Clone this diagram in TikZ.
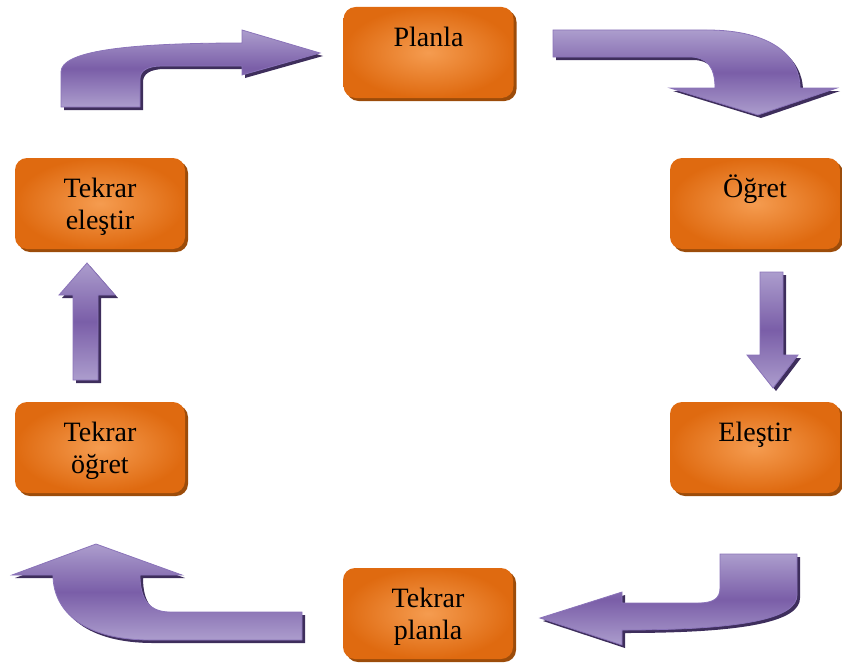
\documentclass[tikz,border=0pt]{standalone}
\usepackage{fontspec}
\setmainfont{Liberation Serif}
\newfontfamily\stagefont{Liberation Serif}
\usetikzlibrary{shadows}
\definecolor{boxin}{HTML}{F59C50}
\definecolor{boxout}{HTML}{DF6A10}
\definecolor{boxsh}{HTML}{9C4C0A}
\definecolor{arrlight}{HTML}{AC9DCD}
\definecolor{arrdark}{HTML}{7A5EA8}
\definecolor{arredge}{HTML}{8A73B9}
\definecolor{arrsh}{HTML}{3E2E5C}
\tikzset{
  stagebox/.style={rounded corners=12pt, minimum width=170pt, minimum height=91pt,
    inner sep=0pt, inner color=boxin, outer color=boxout,
    general shadow={fill=boxsh, shadow xshift=3pt, shadow yshift=-3pt},
    font=\stagefont\fontsize{28}{32}\selectfont},
  blockarrow/.style={draw=arredge, line width=0.8pt, top color=arrlight,
    bottom color=arrlight, middle color=arrdark,
    general shadow={fill=arrsh, shadow xshift=3pt, shadow yshift=-3pt}}
}
\newcommand{\boxlabel}[1]{\parbox[c][91pt][t]{170pt}{\centering\rule{0pt}{39pt}#1}}
\begin{document}
\begin{tikzpicture}[x=1pt,y=-1pt]
\useasboundingbox (0,0) rectangle (842,669);
% stages
\node[stagebox] (planla) at (428.5,52.5) {\boxlabel{Planla}};
\node[stagebox] (ogret) at (755,203.5) {\boxlabel{Öğret}};
\node[stagebox] (elestir) at (755,447.5) {\boxlabel{Eleştir}};
\node[stagebox] (tplanla) at (428,613.5) {\boxlabel{Tekrar\\planla}};
\node[stagebox] (togret) at (100,447.5) {\boxlabel{Tekrar\\öğret}};
\node[stagebox] (telestir) at (100,203.5) {\boxlabel{Tekrar\\eleştir}};
% arrow: Tekrar eleştir -> Planla
\path[blockarrow] (61,107) -- (61,72) .. controls (61,52) and (120,43) .. (242,43)
  -- (242,30) -- (320,53) -- (242,75) -- (242,66) -- (162,66)
  .. controls (147,66) and (140,71) .. (140,79) -- (140,107) -- cycle;
% arrow: Planla -> Öğret
\path[blockarrow] (553,30) -- (707,30) .. controls (770,30) and (800,55) .. (800,88)
  -- (837,88) -- (758,115) -- (670,88) -- (715,88)
  .. controls (715,66) and (706,57) .. (690,57) -- (553,57) -- cycle;
% arrow: Öğret -> Eleştir
\path[blockarrow] (760,272) -- (783,272) -- (783,355) -- (798,355) -- (773,388)
  -- (747,355) -- (760,355) -- cycle;
% arrow: Eleştir -> Tekrar planla
\path[blockarrow] (720,554) -- (797,554) -- (797,595)
  .. controls (797,618) and (745,630) .. (622,630) -- (622,645) -- (540,618)
  -- (622,592) -- (622,603) -- (698,603) .. controls (714,603) and (720,598) .. (720,588) -- cycle;
% arrow: Tekrar planla -> Tekrar öğret
\path[blockarrow] (302,612) -- (302,640) -- (150,640)
  .. controls (85,640) and (53,612) .. (53,575) -- (12,575) -- (96,544) -- (182,575)
  -- (140,575) .. controls (140,600) and (150,612) .. (170,612) -- cycle;
% arrow: Tekrar öğret -> Tekrar eleştir
\path[blockarrow] (73,380) -- (98,380) -- (98,295) -- (115,295) -- (87,263)
  -- (59,295) -- (73,295) -- cycle;
\end{tikzpicture}
\end{document}
